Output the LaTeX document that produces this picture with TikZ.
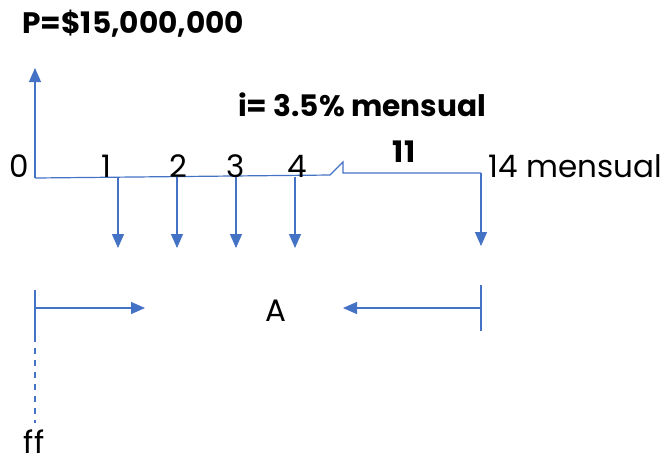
\documentclass[tikz,border=0pt]{standalone}
\usepackage{fontspec}
\setmainfont{Poppins}
\usepackage{xcolor}
\usetikzlibrary{arrows.meta, positioning}
\definecolor{flowblue}{HTML}{4472C4}

\begin{document}
\begin{tikzpicture}[x=0.5pt, y=-0.5pt, >={Triangle[length=7pt, width=6pt]},
    flow/.style={draw=flowblue, line width=0.6pt},
    lbl/.style={inner sep=0pt, font=\fontsize{15.5}{17}\selectfont},
    blbl/.style={inner sep=0pt, font=\fontsize{14.8}{17}\selectfont\bfseries}]
    \useasboundingbox (0,0) rectangle (663,463);

    % axis points
    \coordinate (o) at (35,178);
    \coordinate (up) at (35,68);
    \coordinate (brkA) at (330,175);
    \coordinate (brkB) at (343,162);
    \coordinate (brkC) at (343,173);
    \coordinate (end) at (481,173);
    \coordinate (endtip) at (481,246);

    % time line
    \draw[flow, ->] (o) -- (up);
    \draw[flow] (o) -- (brkA) -- (brkB) -- (brkC) -- (end);
    \draw[flow, ->] (end) -- (endtip);
    \foreach \x/\lx/\n in {118/106/1, 177/178/2, 236/236/3, 295/297/4} {
        \coordinate (t\n) at (\x,177);
        \coordinate (d\n) at (\x,248);
        \draw[flow, ->] (t\n) -- (d\n);
        \node[lbl] (n\n) at (\lx,166) {\n};
    }

    \node[lbl] (n0) at (19,166) {0};
    \node[blbl] (n11) at (404,152) {11};
    \node[lbl, anchor=west] (n14) at (488,166) {14 mensual};
    \node[blbl] (rate) at (362,105) {i= 3.5\% mensual};
    \node[blbl, anchor=west] (P) at (22,24) {P=\$15,000,000};

    % annuity span
    \coordinate (lt1) at (35,290);
    \coordinate (lt2) at (35,336);
    \coordinate (la) at (35,308);
    \coordinate (lb) at (145,308);
    \coordinate (rt1) at (481,285);
    \coordinate (rt2) at (481,331);
    \coordinate (ra) at (481,308);
    \coordinate (rb) at (343,308);
    \coordinate (ffend) at (35,423);
    \draw[flow] (lt1) -- (lt2);
    \draw[flow] (rt1) -- (rt2);
    \draw[flow, ->] (la) -- (lb);
    \draw[flow, ->] (ra) -- (rb);
    \draw[flow, dashed] (lt2) -- (ffend);
    \node[lbl] (A) at (276,311) {A};
    \node[lbl] (ff) at (34,442) {ff};
\end{tikzpicture}
\end{document}
